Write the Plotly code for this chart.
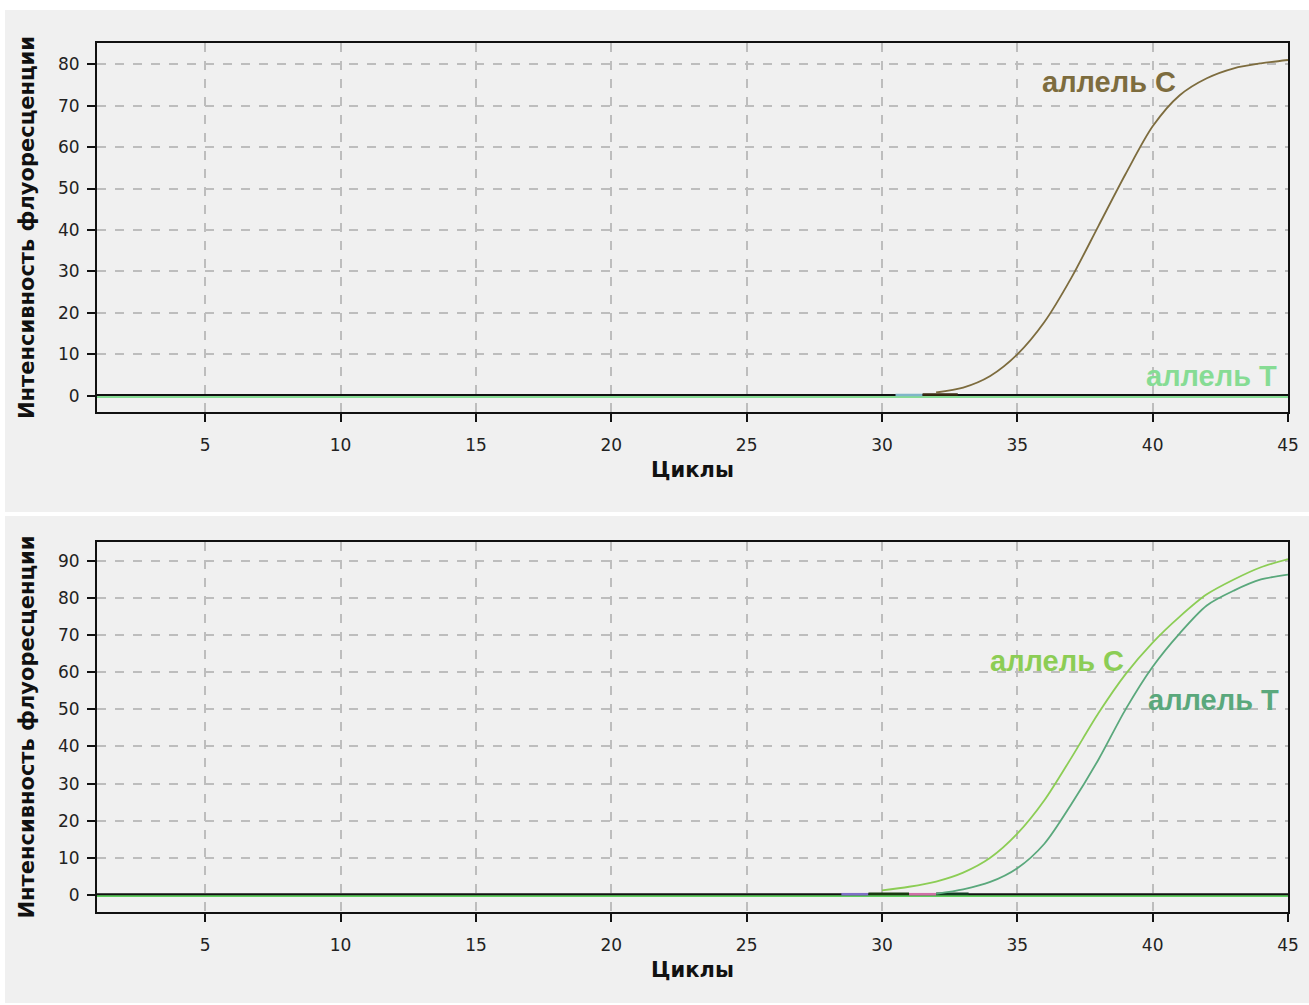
import plotly.graph_objects as go

W, H = 1309, 1005

cycles = list(range(1, 46))

# Top panel: allele C rises, allele T stays flat
top_c_vals = [0.0] * 31 + [0.8, 2.0, 4.8, 10.0, 17.8, 28.5, 41.0, 53.5, 65.0, 72.5, 76.6, 79.0, 80.2, 81.0]
top_t_vals = [-0.3] * 45
top_base_vals = [0.2] * 45

# Bottom panel: both alleles rise
bot_c_vals = [0.0] * 29 + [1.2, 2.2, 3.6, 6.0, 10.0, 16.5, 25.5, 37.0, 49.0, 59.5, 68.0, 75.0, 81.0, 85.0, 88.3, 90.5]
bot_t_vals = [0.0] * 31 + [0.3, 1.5, 3.5, 7.2, 13.8, 24.5, 36.5, 50.0, 61.5, 70.5, 78.0, 82.0, 85.0, 86.3]
bot_base_vals = [0.2] * 45
bot_green_vals = [-0.3] * 45

x_ticks = [5, 10, 15, 20, 25, 30, 35, 40, 45]
top_y_ticks = [0, 10, 20, 30, 40, 50, 60, 70, 80]
bot_y_ticks = [0, 10, 20, 30, 40, 50, 60, 70, 80, 90]

x_title = "Циклы"
y_title = "Интенсивность флуоресценции"
label_c = "аллель C"
label_t = "аллель T"

COL_TOP_C = "#7d6c3e"
COL_TOP_T = "#86dc94"
COL_BOT_C = "#8ccd55"
COL_BOT_T = "#5aa87c"

fig = go.Figure()

def px_x(p):
    return p / W

def px_y(p):
    return 1 - p / H

# Top panel traces
fig.add_trace(go.Scatter(x=cycles, y=top_t_vals, mode="lines", line=dict(color=COL_TOP_T, width=2),
                         xaxis="x", yaxis="y", showlegend=False))
fig.add_trace(go.Scatter(x=cycles, y=top_base_vals, mode="lines", line=dict(color="#111111", width=2),
                         xaxis="x", yaxis="y", showlegend=False))
fig.add_trace(go.Scatter(x=[30.5, 31.5], y=[0.2, 0.2], mode="lines", line=dict(color="#7fb6c8", width=2.5),
                         xaxis="x", yaxis="y", showlegend=False))
fig.add_trace(go.Scatter(x=[31.5, 32.8], y=[0.3, 0.3], mode="lines", line=dict(color="#3a2a10", width=2.5),
                         xaxis="x", yaxis="y", showlegend=False))
fig.add_trace(go.Scatter(x=cycles[31:], y=top_c_vals[31:], mode="lines",
                         line=dict(color=COL_TOP_C, width=1.8, shape="spline", smoothing=0.8),
                         xaxis="x", yaxis="y", showlegend=False))

# Bottom panel traces
fig.add_trace(go.Scatter(x=cycles, y=bot_green_vals, mode="lines", line=dict(color="#5fcf5f", width=2),
                         xaxis="x2", yaxis="y2", showlegend=False))
fig.add_trace(go.Scatter(x=cycles, y=bot_base_vals, mode="lines", line=dict(color="#111111", width=2),
                         xaxis="x2", yaxis="y2", showlegend=False))
fig.add_trace(go.Scatter(x=[28.5, 29.5], y=[0.2, 0.2], mode="lines", line=dict(color="#8070c8", width=2.5),
                         xaxis="x2", yaxis="y2", showlegend=False))
fig.add_trace(go.Scatter(x=[29.5, 31.0], y=[0.3, 0.3], mode="lines", line=dict(color="#1a3a10", width=2.5),
                         xaxis="x2", yaxis="y2", showlegend=False))
fig.add_trace(go.Scatter(x=[31.0, 32.0], y=[0.2, 0.2], mode="lines", line=dict(color="#d070a8", width=2.5),
                         xaxis="x2", yaxis="y2", showlegend=False))
fig.add_trace(go.Scatter(x=[32.0, 33.2], y=[0.3, 0.3], mode="lines", line=dict(color="#103a20", width=2.5),
                         xaxis="x2", yaxis="y2", showlegend=False))
fig.add_trace(go.Scatter(x=cycles[29:], y=bot_c_vals[29:], mode="lines",
                         line=dict(color=COL_BOT_C, width=1.8, shape="spline", smoothing=0.8),
                         xaxis="x2", yaxis="y2", showlegend=False))
fig.add_trace(go.Scatter(x=cycles[31:], y=bot_t_vals[31:], mode="lines",
                         line=dict(color=COL_BOT_T, width=1.8, shape="spline", smoothing=0.8),
                         xaxis="x2", yaxis="y2", showlegend=False))

tickfont = dict(family="DejaVu Sans", size=17, color="#222222")
titlefont = dict(family="DejaVu Sans", size=21, color="#111111")

def xaxis_cfg(domain_anchor):
    return dict(
        domain=[px_x(97), px_x(1288)], range=[1, 45], anchor=domain_anchor, automargin=False,
        tickvals=x_ticks, ticks="outside", ticklen=8, tickwidth=2, tickcolor="#111111",
        ticklabelstandoff=9,
        showline=True, linecolor="#111111", linewidth=2, mirror=True,
        showgrid=True, gridcolor="#bdbdbd", griddash="dash", gridwidth=1.5,
        zeroline=False, tickfont=tickfont,
        title=dict(text="<b>" + x_title + "</b>", font=titlefont, standoff=8),
    )

def yaxis_cfg(domain, rng, ticks, anchor):
    return dict(
        domain=domain, range=rng, anchor=anchor, automargin=False,
        tickvals=ticks, ticks="outside", ticklen=8, tickwidth=2, tickcolor="#111111",
        ticklabelstandoff=4,
        showline=True, linecolor="#111111", linewidth=2, mirror=True,
        showgrid=True, gridcolor="#bdbdbd", griddash="dash", gridwidth=1.5,
        zeroline=False, tickfont=tickfont,
        title=dict(text="<b>" + y_title + "</b>", font=titlefont, standoff=18),
    )

def label(text, x, y, color):
    return dict(text="<b>" + text + "</b>", xref="paper", yref="paper", x=px_x(x), y=px_y(y),
                xanchor="center", yanchor="middle", showarrow=False,
                font=dict(family="Liberation Sans", size=29, color=color))

fig.update_layout(
    width=W, height=H,
    margin=dict(l=0, r=0, t=0, b=0, autoexpand=False),
    paper_bgcolor="white", plot_bgcolor="white",
    xaxis=xaxis_cfg("y"),
    yaxis=yaxis_cfg([px_y(412), px_y(43)], [-3.9, 85.1], top_y_ticks, "x"),
    xaxis2=xaxis_cfg("y2"),
    yaxis2=yaxis_cfg([px_y(912), px_y(542)], [-4.6, 95.1], bot_y_ticks, "x2"),
    shapes=[
        dict(type="rect", xref="paper", yref="paper", x0=px_x(5), x1=1.0, y0=px_y(512), y1=px_y(10),
             fillcolor="#f0f0f0", line=dict(width=0), layer="below"),
        dict(type="rect", xref="paper", yref="paper", x0=px_x(5), x1=1.0, y0=px_y(1003), y1=px_y(516),
             fillcolor="#f0f0f0", line=dict(width=0), layer="below"),
    ],
    annotations=[
        label(label_c, 1109, 82, COL_TOP_C),
        label(label_t, 1211, 376, COL_TOP_T),
        label(label_c, 1057, 661, COL_BOT_C),
        label(label_t, 1213, 700, COL_BOT_T),
    ],
)

fig.write_html("out.html", config={"displayModeBar": False},
               post_script="document.body.style.margin='0px';")
